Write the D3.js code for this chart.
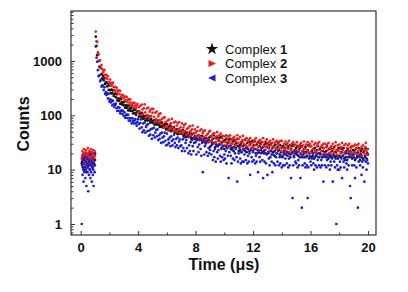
<!DOCTYPE html>
<html>
<head>
<meta charset="utf-8">
<script src="https://cdn.jsdelivr.net/npm/d3@7"></script>
<style>
  body { margin: 0; background: #fff; }
  svg { font-family: Arial, "Liberation Sans", sans-serif; }
</style>
</head>
<body>
<div id="plot"></div>
<script>
// counts, one row per microsecond
// decay channels: 1.05 .. 20.00 us, every 0.05 us
let redCounts = [
  3475,2302,2254,1440,1320,1026,1016,745,847,710,618,658,684,553,485,557,467,524,410,
  377,454,397,352,383,401,329,289,336,284,323,256,281,288,247,282,219,239,213,235,
  209,187,220,189,218,174,193,198,171,196,153,170,153,170,138,169,151,136,151,163,
  113,142,118,150,102,157,128,107,135,159,113,93,133,101,139,92,116,126,98,132,
  112,131,94,77,112,85,117,76,96,105,81,109,68,85,70,90,60,92,75,62,
  63,80,54,83,68,57,72,86,61,51,74,56,77,51,65,72,55,75,48,60,
  52,71,47,59,66,51,70,44,56,46,59,40,63,51,43,55,65,46,39,55,
  48,41,51,61,43,36,52,40,55,37,47,51,40,53,34,43,36,46,32,50,
  52,33,41,35,45,30,47,39,32,41,49,36,29,43,33,46,30,38,42,33,
  28,41,32,43,29,37,41,32,43,28,35,30,38,26,40,33,28,36,43,31,
  37,25,40,32,27,35,42,30,24,36,28,38,26,33,35,28,38,24,31,26,
  25,32,35,28,38,24,31,26,34,23,35,29,25,32,38,27,23,33,26,36,
  29,25,32,22,34,28,24,31,36,26,22,32,25,34,23,29,32,25,34,22,
  34,25,21,30,24,33,22,28,31,24,34,21,27,23,30,20,32,27,22,29,
  23,32,21,26,22,29,20,31,26,22,28,33,24,20,29,23,32,21,27,30,
  21,27,33,24,20,29,22,31,21,27,30,23,32,20,26,22,28,19,30,25,
  30,20,26,29,23,31,20,25,21,27,19,30,24,21,27,32,23,19,28,22,
  29,24,20,26,31,23,19,28,21,30,20,25,28,22,30,19,25,21,27,18,
  27,21,29,20,25,28,22,30,19,24,20,26,18,28,23,20,26,31,22,19,
  24
];

let blueCounts = [
  1844,1148,969,679,525,547,424,451,337,355,353,292,327,248,268,236,257,205,249,
  180,196,173,190,152,184,161,143,155,164,135,120,141,121,138,109,120,124,106,121,
  98,113,90,100,103,89,103,80,89,79,88,71,88,79,71,80,85,71,64,76,
  85,69,57,72,84,60,49,71,53,73,48,61,66,51,69,42,53,44,56,37,
  57,43,59,39,48,54,41,55,35,43,37,46,31,48,39,32,41,48,34,28,
  46,29,36,31,39,27,41,34,28,36,44,31,26,37,28,39,25,33,36,27,
  28,22,36,25,39,22,31,35,25,40,20,28,22,32,19,35,27,22,31,39,
  32,19,35,26,21,29,37,24,18,31,9,34,19,27,30,21,34,18,25,20,
  23,27,19,31,15,22,17,24,14,27,21,16,23,29,18,14,24,17,27,15,
  19,16,22,13,25,18,7,21,27,18,13,23,16,26,15,20,24,17,6,14,
  20,26,16,13,21,14,24,14,19,22,15,25,13,18,14,20,8,23,17,14,
  21,15,24,13,18,14,20,9,22,17,14,20,25,15,7,20,14,23,13,19,
  8,21,16,12,17,22,14,9,19,13,22,12,17,20,14,22,12,17,13,18,
  11,18,12,20,12,16,19,13,21,11,16,12,17,7,20,3,12,17,22,14,
  13,21,11,15,12,17,7,19,2,12,17,21,13,11,17,12,3,11,16,18,
  14,12,16,20,13,10,17,12,19,11,15,17,12,20,11,15,12,17,6,18,
  12,18,11,15,17,12,19,10,14,12,16,6,18,14,11,16,1,12,10,17,
  10,14,11,16,7,18,14,11,15,20,13,10,17,12,19,5,3,17,12,19,
  19,12,7,16,11,18,2,14,17,12,19,8,14,11,15,6,17,14,10,15,
  13
];

let blackCounts = [
  2799,1904,1272,1320,1000,784,773,741,572,480,536,443,490,378,404,404,340,383,293,
  353,290,256,298,253,287,227,247,251,214,242,188,206,184,202,163,198,175,157,172,
  153,177,138,152,137,151,123,151,134,121,134,144,119,108,128,110,127,102,113,117,
  118,95,106,110,95,111,87,96,87,96,80,98,87,80,89,96,80,73,86,75,
  79,72,80,67,82,73,67,74,80,67,61,72,63,74,60,66,68,60,69,55,
  69,57,53,62,54,64,51,57,60,52,61,48,54,49,55,45,56,50,46,51,
  52,46,53,42,46,43,47,40,48,44,40,45,49,40,37,45,38,46,37,41,
  39,36,42,37,43,35,39,41,35,42,33,37,33,38,32,38,35,32,35,39,
  26,41,34,29,37,43,31,26,38,29,40,27,34,38,29,40,25,32,27,34,
  24,35,27,37,25,31,35,27,37,24,30,25,33,22,35,29,25,31,37,27,
  22,28,23,30,21,33,27,23,29,35,25,21,31,24,33,22,29,32,25,34,
  22,28,33,24,20,29,23,32,21,27,30,23,32,21,26,22,29,20,31,26,
  30,20,25,28,22,30,19,25,21,27,18,29,24,20,26,31,23,19,28,21,
  25,17,27,22,19,25,29,21,18,26,20,28,19,24,27,21,29,18,23,20,
  25,19,27,18,23,25,20,27,17,22,19,24,17,26,21,18,23,28,20,17,
  27,17,22,18,24,16,25,21,18,23,27,20,17,24,19,26,17,22,25,19,
  21,17,22,27,19,16,24,18,25,17,22,24,19,26,17,21,18,23,16,25,
  18,25,17,21,24,18,25,16,21,17,22,15,24,20,17,22,26,19,16,23,
  17,22,15,24,20,17,21,25,18,15,22,17,24,16,21,23,18,25,16,20,
  19
];

// background before the pulse: 0.075 .. 1.0 us, every 0.025 us
let redPre = [16,18,22,15,20,13,24,17,19,12,21,16,23,14,18,20,11,25,15,19,17,22,13,20,16,24,18,12,21,15,19,23,14,17,20,16,22,18];
let bluePre = [1,12,8,15,10,6,13,9,17,11,7,14,10,5,12,16,9,11,4,13,8,15,10,19,7,12,9,14,6,11,13,8,10,5,15,12,9,20];
let blackPre = [13,14,17,11,19,13,16,10,15,18,12,20,14,9,16,13,17,11,19,15,12,14,21,10,16,13,18,12,15,20,11,17,14,16,13,19,12,15];

let decayTime = d3.range(21, 401).map(i => i * 0.05);
let preTime = d3.range(3, 41).map(i => i * 0.025);

let xTicks = [0, 4, 8, 12, 16, 20];
let xMinor = [2, 6, 10, 14, 18];
let yTicks = [1, 10, 100, 1000];

let seriesNames = ['Complex ', 'Complex ', 'Complex '];
let seriesNums = ['1', '2', '3'];
let seriesColors = ['#111111', '#ee1c1c', '#1c1cd8'];

let svgWidth = 408;
let svgHeight = 292;
let box = { left: 71, top: 11, right: 376, bottom: 235 };

let svg = d3.select('#plot')
  .append('svg')
    .attr('width', svgWidth)
    .attr('height', svgHeight);

let x = d3.scaleLinear()
  .domain([-0.675, 20.56])
  .range([box.left, box.right]);

let y = d3.scaleLog()
  .domain([0.627, 8320])
  .range([box.bottom, box.top]);

svg.append('clipPath').attr('id', 'clip')
  .append('rect')
    .attr('x', box.left).attr('y', box.top)
    .attr('width', box.right - box.left)
    .attr('height', box.bottom - box.top);

let dots = svg.append('g').attr('clip-path', 'url(#clip)');

function drawSeries(times, counts, color) {
  let pts = counts.map((c, i) => ({ t: times[i], c: c }));
  dots.append('g')
    .selectAll('circle')
    .data(pts)
    .join('circle')
      .attr('cx', d => x(d.t))
      .attr('cy', d => y(d.c))
      .attr('r', 1.35)
      .attr('fill', color);
}

drawSeries(preTime, blackPre, seriesColors[0]);
drawSeries(decayTime, blackCounts, seriesColors[0]);
drawSeries(preTime, redPre, seriesColors[1]);
drawSeries(decayTime, redCounts, seriesColors[1]);
drawSeries(preTime, bluePre, seriesColors[2]);
drawSeries(decayTime, blueCounts, seriesColors[2]);

// minor log ticks
let yMinor = [];
[0.1, 1, 10, 100, 1000].forEach(dec => {
  for (let k = 2; k <= 9; k++) {
    let v = dec * k;
    if (v > y.domain()[0] && v < y.domain()[1]) yMinor.push(v);
  }
});

svg.append('g')
  .attr('transform', `translate(0,${box.bottom})`)
  .call(d3.axisBottom(x).tickValues(xTicks).tickSize(-4).tickPadding(8).tickFormat(d3.format('d')));

svg.append('g')
  .attr('transform', `translate(0,${box.bottom})`)
  .call(d3.axisBottom(x).tickValues(xMinor).tickSize(-2.5).tickFormat(''));

svg.append('g')
  .attr('transform', `translate(${box.left},0)`)
  .call(d3.axisLeft(y).tickValues(yTicks).tickSize(-4).tickPadding(9).tickFormat(d3.format('d')));

svg.append('g')
  .attr('transform', `translate(${box.left},0)`)
  .call(d3.axisLeft(y).tickValues(yMinor).tickSize(-2.5).tickFormat(''));

svg.selectAll('.domain').remove();
svg.selectAll('.tick line').attr('stroke', '#333').attr('stroke-width', 1);
svg.selectAll('.tick text')
  .attr('fill', '#111')
  .attr('font-size', 13)
  .attr('font-weight', 'bold')
  .attr('font-family', 'Arial, "Liberation Sans", sans-serif');

svg.append('rect')
  .attr('x', box.left).attr('y', box.top)
  .attr('width', box.right - box.left)
  .attr('height', box.bottom - box.top)
  .attr('fill', 'none')
  .attr('stroke', '#333')
  .attr('stroke-width', 1.2);

svg.append('text')
  .attr('x', 224).attr('y', 270)
  .attr('text-anchor', 'middle')
  .attr('font-size', 16)
  .attr('font-weight', 'bold')
  .attr('fill', '#111')
  .text('Time (\u03bcs)');

svg.append('text')
  .attr('transform', 'translate(29,124) rotate(-90)')
  .attr('text-anchor', 'middle')
  .attr('font-size', 16)
  .attr('font-weight', 'bold')
  .attr('fill', '#111')
  .text('Counts');

// legend
let legend = svg.append('g').attr('transform', 'translate(212,49)');
let rows = legend.selectAll('g')
  .data(seriesNums)
  .join('g')
    .attr('transform', (d, i) => `translate(0,${i * 14.5})`);

rows.append('path')
  .attr('d', (d, i) => {
    if (i == 0) return d3.symbol(d3.symbolStar, 48)();
    if (i == 1) return 'M-3.5,-3.6L4,0L-3.5,3.6Z';
    return 'M3.5,-3.6L-4,0L3.5,3.6Z';
  })
  .attr('fill', (d, i) => seriesColors[i]);

let labels = rows.append('text')
  .attr('x', 13)
  .attr('y', 4.5)
  .attr('font-size', 13)
  .attr('fill', '#111');
labels.append('tspan').text((d, i) => seriesNames[i]);
labels.append('tspan').attr('font-weight', 'bold').text(d => d);
</script>
</body>
</html>
